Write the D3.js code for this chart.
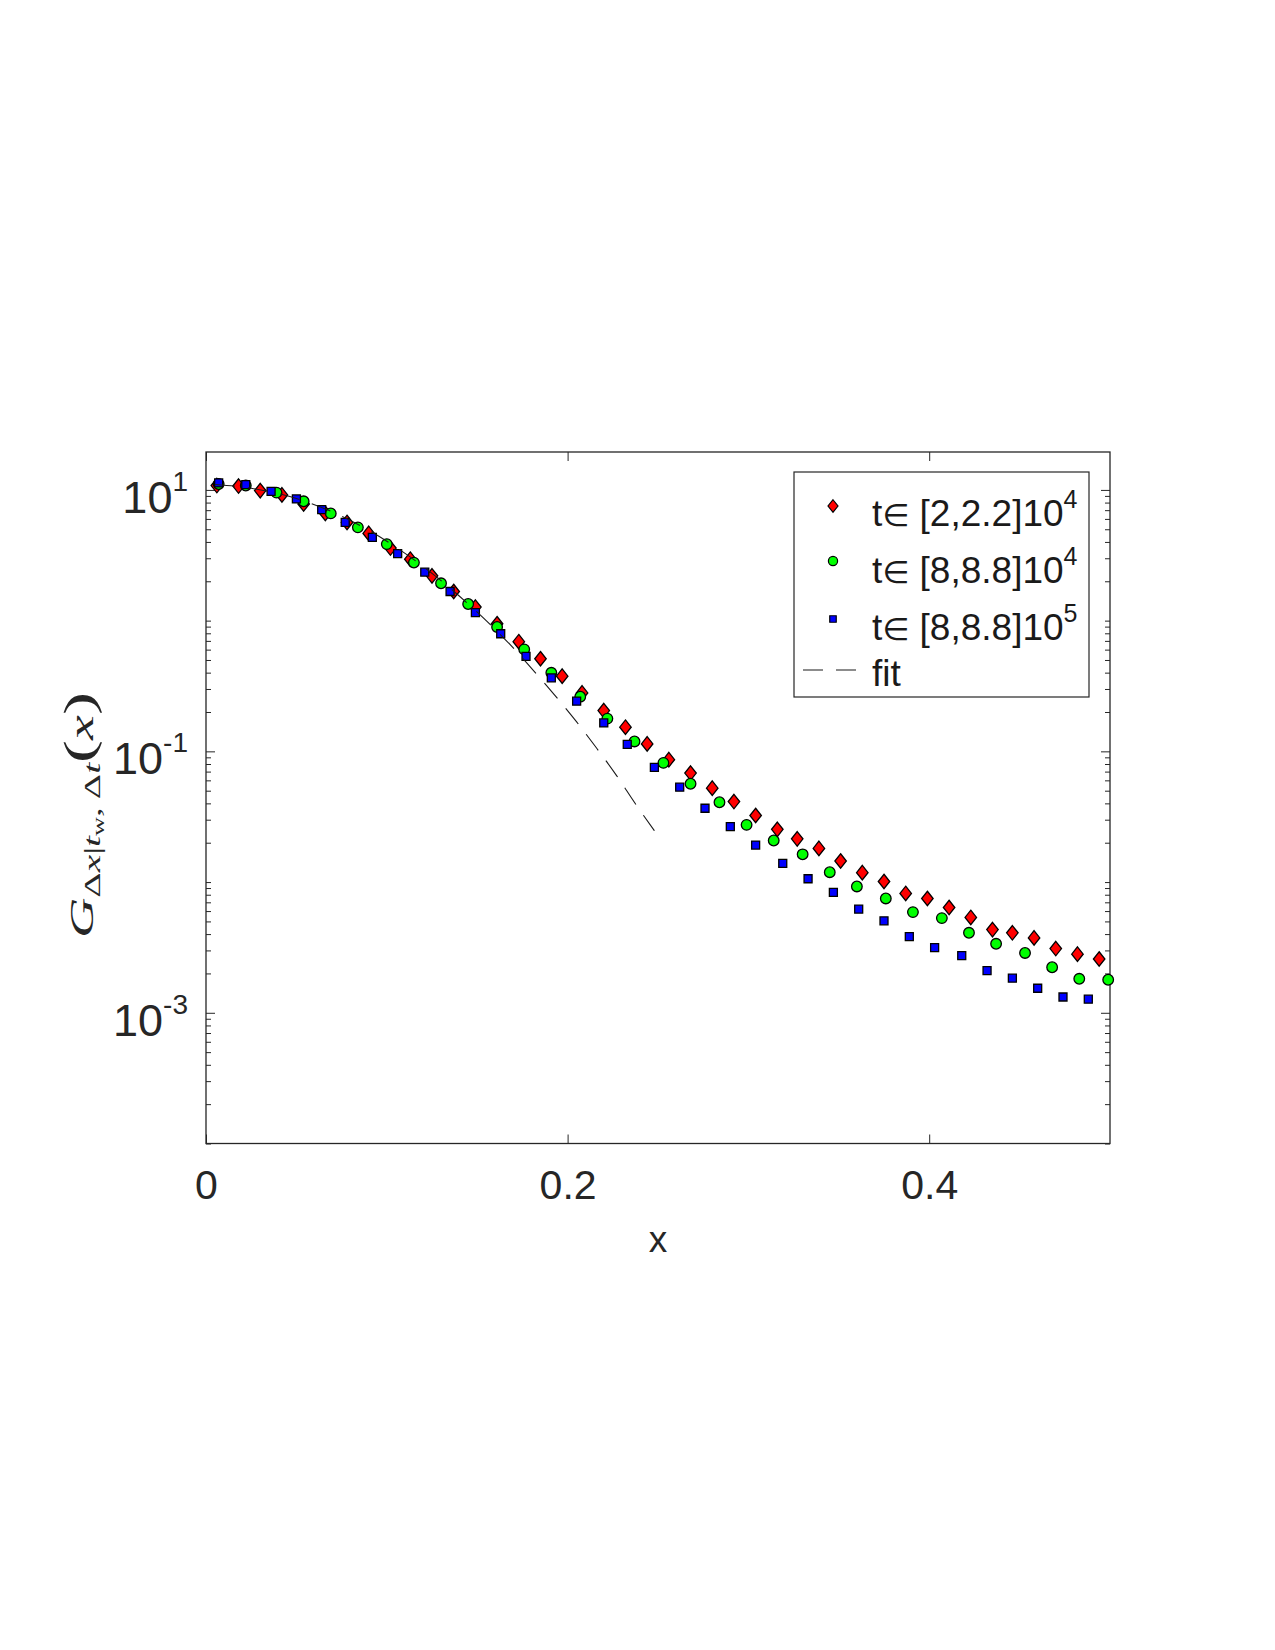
<!DOCTYPE html>
<html>
<head>
<meta charset="utf-8">
<script src="https://cdn.jsdelivr.net/npm/d3@7"></script>
<style>
	body { margin: 0; background: #fff; }
	svg { display: block; font-family: "Liberation Sans", Arial, sans-serif; }
</style>
</head>
<body>
<svg id="chart" width="1275" height="1650"></svg>
<script>
// values
const redX = [0.006, 0.018, 0.030, 0.042, 0.054, 0.066, 0.078, 0.090, 0.102, 0.113, 0.125, 0.137, 0.149, 0.161,
	0.173, 0.185, 0.197, 0.208, 0.220, 0.232, 0.244, 0.256, 0.268, 0.280, 0.292, 0.304, 0.316, 0.327,
	0.339, 0.351, 0.363, 0.375, 0.387, 0.399, 0.411, 0.423, 0.435, 0.446, 0.458, 0.470, 0.482, 0.494];
const redY = [10.8, 10.7, 9.88, 9.16, 7.81, 6.61, 5.64, 4.65, 3.59, 2.95, 2.20, 1.67, 1.27, 0.947,
	0.690, 0.511, 0.376, 0.280, 0.205, 0.153, 0.114, 0.0864, 0.0682, 0.0523, 0.0413, 0.0323, 0.0253, 0.0214,
	0.0181, 0.0145, 0.0118, 0.0101, 0.00818, 0.00749, 0.00639, 0.00536, 0.00433, 0.00409, 0.00374, 0.00310, 0.00281, 0.00258];

const greenX = [0.007, 0.022, 0.039, 0.054, 0.069, 0.084, 0.100, 0.115, 0.130, 0.145, 0.161, 0.176, 0.191,
	0.207, 0.222, 0.237, 0.253, 0.268, 0.284, 0.299, 0.314, 0.330, 0.345, 0.360, 0.376, 0.391,
	0.407, 0.422, 0.437, 0.453, 0.468, 0.483, 0.499];
const greenY = [11.1, 10.8, 9.53, 8.18, 6.61, 5.17, 3.85, 2.78, 1.93, 1.34, 0.894, 0.603, 0.399,
	0.262, 0.178, 0.119, 0.0816, 0.0565, 0.0408, 0.0274, 0.0208, 0.0163, 0.0119, 0.00926, 0.00749, 0.00589,
	0.00530, 0.00409, 0.00337, 0.00287, 0.00223, 0.00182, 0.00179];

const blueX = [0.007, 0.022, 0.036, 0.050, 0.064, 0.077, 0.092, 0.106, 0.121, 0.135, 0.149, 0.163, 0.177,
	0.191, 0.205, 0.220, 0.233, 0.248, 0.262, 0.276, 0.290, 0.304, 0.319, 0.333, 0.347, 0.361,
	0.375, 0.389, 0.403, 0.418, 0.432, 0.446, 0.460, 0.474, 0.488];
const blueY = [11.3, 10.97, 9.76, 8.53, 7.06, 5.64, 4.33, 3.26, 2.35, 1.67, 1.15, 0.794, 0.533,
	0.365, 0.242, 0.165, 0.113, 0.0754, 0.0532, 0.0367, 0.0266, 0.0192, 0.0139, 0.0106, 0.00833, 0.00621,
	0.00505, 0.00383, 0.00315, 0.00274, 0.00210, 0.00184, 0.00154, 0.00132, 0.00127];

const fitX = [0.005, 0.025, 0.05, 0.075, 0.1, 0.125, 0.15, 0.168, 0.185, 0.205, 0.216, 0.227, 0.2375, 0.248];
const fitY = [11.0, 10.3, 8.6, 6.3, 4.05, 2.3, 1.16, 0.66, 0.36, 0.168, 0.106, 0.0655, 0.0397, 0.0247];

const xTicks = [0, 0.2, 0.4];
const yTicks = [10, 0.1, 0.001];
const yTickExp = ['1', '-1', '-3'];

const legendRange = ['[2,2.2]10', '[8,8.8]10', '[8,8.8]10', ''];
const legendExp = ['4', '4', '5', ''];

// layout
const plotL = 206, plotR = 1110, plotT = 452, plotB = 1143.5;
const axisColor = '#262626';

const svg = d3.select('#chart');
svg.append('rect').attr('width', 1275).attr('height', 1650).attr('fill', '#fff');

const x = d3.scaleLinear().domain([0, 0.5]).range([plotL, plotR]);
const y = d3.scaleLog().domain([1e-4, 19.5]).range([plotB, plotT]);

// minor ticks of the log axis (every k*10^d that is not a labelled decade)
const minorTicks = [];
for (let d = -4; d <= 1; d++) {
	for (let k = 1; k <= 9; k++) {
		const v = k * Math.pow(10, d);
		if (v <= 19.5 && !yTicks.some(t => Math.abs(t - v) / t < 1e-9)) minorTicks.push(v);
	}
}

function styleAxis(g) {
	g.select('.domain').remove();
	g.selectAll('.tick line').attr('stroke', axisColor).attr('stroke-width', 1);
	g.selectAll('.tick text').attr('fill', axisColor);
}

// bottom axis with labels
svg.append('g')
	.attr('transform', `translate(0,${plotB})`)
	.call(d3.axisBottom(x).tickValues(xTicks).tickSize(-9).tickPadding(26).tickFormat(d3.format('')))
	.call(styleAxis)
	.selectAll('text').attr('font-size', 41).attr('font-family', '"Liberation Sans", Arial, sans-serif');

// top axis, ticks only
svg.append('g')
	.attr('transform', `translate(0,${plotT})`)
	.call(d3.axisTop(x).tickValues(xTicks).tickSize(-9).tickFormat(''))
	.call(styleAxis);

// left and right axes, major + minor
[[d3.axisLeft, plotL], [d3.axisRight, plotR]].forEach(([axisFn, pos]) => {
	svg.append('g')
		.attr('transform', `translate(${pos},0)`)
		.call(axisFn(y).tickValues(yTicks).tickSize(-9).tickFormat(''))
		.call(styleAxis);
	svg.append('g')
		.attr('transform', `translate(${pos},0)`)
		.call(axisFn(y).tickValues(minorTicks).tickSize(-5).tickFormat(''))
		.call(styleAxis);
});

// box
svg.append('rect')
	.attr('x', plotL).attr('y', plotT)
	.attr('width', plotR - plotL).attr('height', plotB - plotT)
	.attr('fill', 'none').attr('stroke', axisColor).attr('stroke-width', 1.3);

// y tick labels 10^n
yTicks.forEach((v, i) => {
	const t = svg.append('text')
		.attr('x', 188).attr('y', y(v) + 23)
		.attr('text-anchor', 'end')
		.attr('fill', axisColor);
	t.append('tspan').attr('font-size', 45).text('10');
	t.append('tspan').attr('font-size', 28).attr('dy', -22).text(yTickExp[i]);
});

// x axis label
svg.append('text')
	.attr('x', (plotL + plotR) / 2).attr('y', 1252)
	.attr('text-anchor', 'middle')
	.attr('font-size', 37)
	.attr('fill', axisColor)
	.text('x');

// y axis label G_{Δx|t_w,Δt}(x)
const ylab = svg.append('text')
	.attr('font-family', '"Liberation Serif", "DejaVu Serif", serif')
	.attr('fill', axisColor);

function addSpan(txt, size, dy, italic) {
	ylab.append('tspan')
		.attr('font-size', size)
		.attr('dy', dy)
		.attr('font-style', italic ? 'italic' : 'normal')
		.text(txt);
}
addSpan('G', 34, 0, true);
addSpan('\u0394', 24, 7, false);
addSpan('x', 24, 0, true);
addSpan('|', 24, 0, false);
addSpan('t', 24, 0, true);
addSpan('w', 16, 4, false);
addSpan(',', 24, -4, false);
addSpan('\u2009\u0394', 24, 0, false);
addSpan('t', 24, 0, true);
addSpan('(', 42, -7, false);
addSpan('x', 34, 0, true);
addSpan(')', 42, 0, false);

const yb = ylab.node().getBBox();
const ys = 246 / yb.width;
ylab.attr('transform', `translate(93,815) rotate(-90) scale(${ys},1) translate(${-(yb.x + yb.width / 2)},0)`);

// markers
const diamond = (w, h) => `M0,${-h / 2}L${w / 2},0L0,${h / 2}L${-w / 2},0Z`;

function drawSeries(xs, ys, shape, color) {
	const pts = xs.map((d, i) => [d, ys[i]]);
	const g = svg.append('g');
	if (shape === 'circle') {
		g.selectAll('circle').data(pts).enter().append('circle')
			.attr('cx', d => x(d[0])).attr('cy', d => y(d[1]))
			.attr('r', 5.3)
			.attr('fill', color).attr('stroke', '#000').attr('stroke-width', 1.3);
	} else {
		g.selectAll('path').data(pts).enter().append('path')
			.attr('transform', d => `translate(${x(d[0])},${y(d[1])})`)
			.attr('d', shape === 'diamond' ? diamond(11.5, 14.5) : d3.symbol(d3.symbolSquare, 64)())
			.attr('fill', color).attr('stroke', '#000').attr('stroke-width', 1.3);
	}
}

drawSeries(redX, redY, 'diamond', '#ff0000');
drawSeries(greenX, greenY, 'circle', '#00ff00');
drawSeries(blueX, blueY, 'square', '#0000ff');

// fit line
const fitPts = fitX.map((d, i) => [d, fitY[i]]);
svg.append('path')
	.datum(fitPts)
	.attr('d', d3.line().x(d => x(d[0])).y(d => y(d[1])).curve(d3.curveMonotoneX))
	.attr('fill', 'none')
	.attr('stroke', '#1a1a1a')
	.attr('stroke-width', 1.1)
	.attr('stroke-dasharray', '20,13');

// legend
const legX = 794, legY = 472, legW = 295, legH = 225;
const rowBase = [526, 583, 640, 686];
const leg = svg.append('g');
leg.append('rect')
	.attr('x', legX).attr('y', legY).attr('width', legW).attr('height', legH)
	.attr('fill', '#fff').attr('stroke', axisColor).attr('stroke-width', 1.2);

leg.append('path')
	.attr('transform', `translate(833,${rowBase[0] - 20})`)
	.attr('d', diamond(10, 12.5))
	.attr('fill', '#ff0000').attr('stroke', '#000').attr('stroke-width', 1.2);
leg.append('circle')
	.attr('cx', 833).attr('cy', rowBase[1] - 22).attr('r', 4.6)
	.attr('fill', '#00ff00').attr('stroke', '#000').attr('stroke-width', 1.2);
leg.append('path')
	.attr('transform', `translate(833,${rowBase[2] - 21})`)
	.attr('d', d3.symbol(d3.symbolSquare, 42)())
	.attr('fill', '#0000ff').attr('stroke', '#000').attr('stroke-width', 1.2);
leg.append('line')
	.attr('x1', 803).attr('x2', 857)
	.attr('y1', rowBase[3] - 16).attr('y2', rowBase[3] - 16)
	.attr('stroke', '#1a1a1a').attr('stroke-width', 1.1)
	.attr('stroke-dasharray', '20,13');

legendRange.forEach((txt, i) => {
	const t = leg.append('text')
		.attr('x', 872).attr('y', rowBase[i])
		.attr('fill', '#1a1a1a')
		.attr('font-size', 37);
	if (!txt) {
		t.text('fit');
		return;
	}
	t.append('tspan').text('t');
	t.append('tspan').attr('font-size', 31).attr('font-family', '"DejaVu Sans", sans-serif').text('\u2208');
	t.append('tspan').text(' ' + txt);
	t.append('tspan').attr('font-size', 25).attr('dy', -18).text(legendExp[i]);
});
</script>
</body>
</html>
